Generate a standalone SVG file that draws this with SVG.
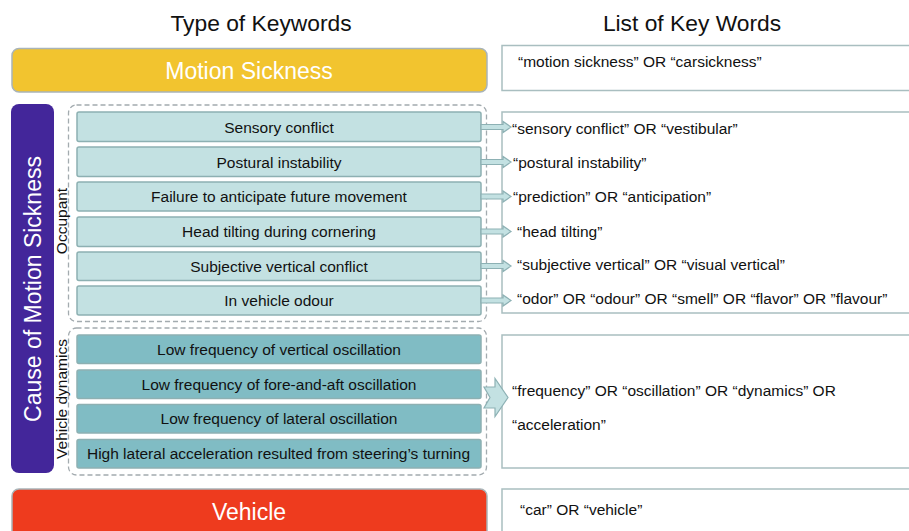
<svg xmlns="http://www.w3.org/2000/svg" width="909" height="531" viewBox="0 0 909 531">
  <style>
    text { font-family: "Liberation Sans", Arial, sans-serif; }
    .title { font-size: 22.8px; fill: #111; text-anchor: middle; }
    .big { font-size: 23px; fill: #fff; text-anchor: middle; }
    .lbl { font-size: 15.5px; fill: #111; text-anchor: middle; }
    .kw { font-size: 15.5px; fill: #111; }
    .side { font-size: 15.5px; fill: #111; text-anchor: middle; }
    .occ { fill: #c3e1e2; stroke: #8db0b2; stroke-width: 1.5; }
    .dyn { fill: #80bcc4; stroke: #8db0b2; stroke-width: 1.5; }
    .list { fill: #fff; stroke: #a9bec0; stroke-width: 1.5; }
    .group { fill: none; stroke: #a3abaf; stroke-width: 1.3; stroke-dasharray: 5 3; }
    .arrow { fill: #c3e1e2; stroke: #8db1b4; stroke-width: 1.2; }
  </style>
  <defs>
    <path id="smallArrow" d="M0,-2.5 H22 V-5.5 L30,0 L22,5.5 V2.5 H0 Z"/>
  </defs>

  <rect width="909" height="531" fill="#fff"/>

  <!-- column headings -->
  <text class="title" x="261" y="31">Type of Keywords</text>
  <text class="title" x="692" y="31">List of Key Words</text>

  <!-- motion sickness -->
  <g id="motion-sickness">
    <rect x="12" y="48.5" width="475" height="43.5" rx="7" fill="#f2c42f" stroke="#a9b4b8" stroke-width="1.5"/>
    <text class="big" x="249" y="79">Motion Sickness</text>
  </g>
  <g id="kw-motion-sickness">
    <rect class="list" x="502" y="45.5" width="420" height="45"/>
    <text class="kw" x="518" y="67">“motion sickness” OR “carsickness”</text>
  </g>

  <!-- cause of motion sickness -->
  <g id="cause">
    <rect x="11" y="104" width="43" height="369" rx="8" fill="#43269a"/>
    <text class="big" transform="translate(41,289) rotate(-90)">Cause of Motion Sickness</text>
  </g>

  <!-- occupant group -->
  <g id="occupant">
    <rect class="group" x="68.5" y="105" width="418" height="216.5" rx="8"/>
    <text class="side" transform="translate(67,221) rotate(-90)">Occupant</text>
  </g>
  <g id="sensory-conflict">
    <rect class="occ" x="77" y="112" width="404" height="29.5" rx="2"/>
    <text class="lbl" x="279" y="132.5">Sensory conflict</text>
  </g>
  <g id="postural-instability">
    <rect class="occ" x="77" y="147" width="404" height="29.5" rx="2"/>
    <text class="lbl" x="279" y="167.5">Postural instability</text>
  </g>
  <g id="anticipation">
    <rect class="occ" x="77" y="182" width="404" height="29" rx="2"/>
    <text class="lbl" x="279" y="202">Failure to anticipate future movement</text>
  </g>
  <g id="head-tilting">
    <rect class="occ" x="77" y="217" width="404" height="29.5" rx="2"/>
    <text class="lbl" x="279" y="237">Head tilting during cornering</text>
  </g>
  <g id="subjective-vertical">
    <rect class="occ" x="77" y="252" width="404" height="28.5" rx="2"/>
    <text class="lbl" x="279" y="271.5">Subjective vertical conflict</text>
  </g>
  <g id="odour">
    <rect class="occ" x="77" y="286" width="404" height="29" rx="2"/>
    <text class="lbl" x="279" y="306">In vehicle odour</text>
  </g>

  <!-- vehicle dynamics group -->
  <g id="vehicle-dynamics">
    <rect class="group" x="68.5" y="328" width="418" height="147" rx="8"/>
    <text class="side" transform="translate(67,399) rotate(-90)">Vehicle dynamics</text>
  </g>
  <g id="vertical-oscillation">
    <rect class="dyn" x="77" y="335" width="404" height="28.5" rx="2"/>
    <text class="lbl" x="279" y="354.5">Low frequency of vertical oscillation</text>
  </g>
  <g id="fore-aft-oscillation">
    <rect class="dyn" x="77" y="370" width="404" height="28.5" rx="2"/>
    <text class="lbl" x="279" y="389.5">Low frequency of fore-and-aft oscillation</text>
  </g>
  <g id="lateral-oscillation">
    <rect class="dyn" x="77" y="404.5" width="404" height="28.5" rx="2"/>
    <text class="lbl" x="279" y="424">Low frequency of lateral oscillation</text>
  </g>
  <g id="lateral-acceleration">
    <rect class="dyn" x="77" y="439.5" width="404" height="28.5" rx="2"/>
    <text class="lbl" x="278.5" y="459">High lateral acceleration resulted from steering’s turning</text>
  </g>

  <!-- occupant keywords -->
  <g id="kw-occupant">
    <rect class="list" x="502" y="112" width="420" height="201"/>
    <text class="kw" x="512" y="134">“sensory conflict” OR “vestibular”</text>
    <text class="kw" x="513" y="168">“postural instability”</text>
    <text class="kw" x="513" y="202">“prediction” OR “anticipation”</text>
    <text class="kw" x="517" y="236.5">“head tilting”</text>
    <text class="kw" x="517" y="270">“subjective vertical” OR “visual vertical”</text>
    <text class="kw" x="517" y="304">“odor” OR “odour” OR “smell” OR “flavor” OR ”flavour”</text>
  </g>

  <!-- vehicle dynamics keywords -->
  <g id="kw-dynamics">
    <rect class="list" x="502" y="335" width="420" height="133"/>
    <text class="kw" x="512" y="395.5">“frequency” OR “oscillation” OR “dynamics” OR</text>
    <text class="kw" x="512" y="429.5">“acceleration”</text>
  </g>

  <!-- vehicle -->
  <g id="vehicle">
    <rect x="12" y="489" width="475" height="50" rx="7" fill="#ee3b1e" stroke="#a9b4b8" stroke-width="1.5"/>
    <text class="big" x="249" y="520">Vehicle</text>
  </g>
  <g id="kw-vehicle">
    <rect class="list" x="502" y="489" width="420" height="50"/>
    <text class="kw" x="520" y="515">“car” OR “vehicle”</text>
  </g>

  <!-- connectors -->
  <g id="connectors">
    <use href="#smallArrow" class="arrow" transform="translate(481,127)"/>
    <use href="#smallArrow" class="arrow" transform="translate(481,162)"/>
    <use href="#smallArrow" class="arrow" transform="translate(481,196.5)"/>
    <use href="#smallArrow" class="arrow" transform="translate(481,231.5)"/>
    <use href="#smallArrow" class="arrow" transform="translate(481,266)"/>
    <use href="#smallArrow" class="arrow" transform="translate(481,300.5)"/>
    <path class="arrow" d="M484,387 H495 V378.5 L508,397.5 L495,416.5 V408 H484 L490,397.5 Z"/>
  </g>
</svg>
